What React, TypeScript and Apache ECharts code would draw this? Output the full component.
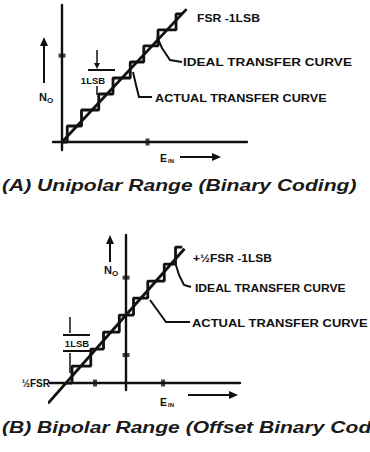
import React, { useEffect, useRef } from "react";
import * as echarts from "echarts";

// ---------- Panel A: unipolar range ----------
const idealA: number[][] = [[0, 0], [8.3, 8.3]];
const edgesA: number[] = [0.35, 1.3, 2.45, 3.4, 4.55, 5.45, 6.4, 7.6];
const stairStartA = 0;
const stairEndA = 8.0;
const tickMarksA = { y: [5.4], x: [5.7] };

// ---------- Panel B: bipolar range ----------
const idealB: number[][] = [[-5.2, -1.2], [3.9, 7.9]];
const edgesB: number[] = [-3.6, -2.35, -1.5, -0.45, 0.5, 1.45, 2.55, 3.3];
const stairStartB = -4.0;
const stairEndB = 3.75;
const tickMarksB = { y: [6.2, 1.65], x: [-2.07, 2.47] };

const INK = "#111";
const FONT = "'Liberation Sans', Arial, sans-serif";

function stairs(start: number, edges: number[], end: number): number[][] {
  const pts: number[][] = [[start, 0]];
  edges.forEach((e, k) => {
    pts.push([e, k]);
    pts.push([e, k + 1]);
  });
  pts.push([end, edges.length]);
  return pts;
}

function label(x: number, y: number, text: string, size = 11.5, align = "left", sx = 1) {
  return {
    type: "text",
    x,
    y,
    scaleX: sx,
    z: 10,
    style: {
      text,
      fontSize: size,
      fontWeight: "bold",
      fontFamily: FONT,
      fill: INK,
      textAlign: align,
      align,
      textVerticalAlign: "middle",
      verticalAlign: "middle",
    },
  };
}

function caption(y: number, text: string) {
  return {
    type: "text",
    x: 2,
    y,
    scaleX: 1.24,
    style: {
      text,
      fontSize: 17,
      fontStyle: "italic",
      fontWeight: "bold",
      fontFamily: FONT,
      fill: "#1a1a1a",
      textVerticalAlign: "middle",
      verticalAlign: "middle",
    },
  };
}

function pline(points: number[][], w = 2) {
  return { type: "polyline", z: 10, shape: { points }, style: { stroke: INK, lineWidth: w, fill: "none" } };
}

function head(points: number[][]) {
  return { type: "polygon", z: 10, shape: { points }, style: { fill: INK } };
}

const axisCommon = {
  type: "value",
  axisLine: { show: true, onZero: true, lineStyle: { color: INK, width: 2.4 } },
  axisTick: { show: false },
  axisLabel: { show: false },
  splitLine: { show: false },
};

export default function App() {
  const ref = useRef<HTMLDivElement>(null);
  useEffect(() => {
    if (!ref.current) return;
    const chart = echarts.init(ref.current, null, { renderer: "svg" });
    const lineSeries = (data: number[][], gi: number) => ({
      type: "line",
      xAxisIndex: gi,
      yAxisIndex: gi,
      data,
      symbol: "none",
      clip: false,
      lineStyle: { color: INK, width: 2.8 },
      z: 5,
    });
    const tickSeries = (ys: number[], xs: number[], gi: number) => ({
      type: "scatter",
      xAxisIndex: gi,
      yAxisIndex: gi,
      symbol: "rect",
      clip: false,
      itemStyle: { color: INK },
      data: [
        ...ys.map((v) => ({ value: [0, v], symbolSize: [7, 4] })),
        ...xs.map((v) => ({ value: [v, 0], symbolSize: [4, 7] })),
      ],
      z: 6,
    });
    chart.setOption({
      animation: false,
      backgroundColor: "#fff",
      grid: [
        { left: 53, top: 5, width: 194, height: 145 },
        { left: 50, top: 235, width: 190, height: 155 },
      ],
      xAxis: [
        { ...axisCommon, gridIndex: 0, min: -0.6, max: 12.33 },
        { ...axisCommon, gridIndex: 1, min: -5.07, max: 7.6 },
      ],
      yAxis: [
        { ...axisCommon, gridIndex: 0, min: -0.5, max: 8.56 },
        { ...axisCommon, gridIndex: 1, min: -0.41, max: 8.71 },
      ],
      series: [
        lineSeries(idealA, 0),
        lineSeries(stairs(stairStartA, edgesA, stairEndA), 0),
        tickSeries(tickMarksA.y, tickMarksA.x, 0),
        lineSeries(idealB, 1),
        lineSeries(stairs(stairStartB, edgesB, stairEndB), 1),
        tickSeries(tickMarksB.y, tickMarksB.x, 1),
      ],
      graphic: [
        // ----- Panel A annotations -----
        label(197, 18, "FSR -1LSB", 10, "left", 1.22),
        pline([[157, 37], [162, 48], [170, 60], [182, 62]]),
        label(183, 62, "IDEAL TRANSFER CURVE", 11.5, "left", 1.18),
        pline([[133, 72], [136, 85], [139, 97], [152, 97]]),
        label(155, 98, "ACTUAL TRANSFER CURVE", 11.5, "left", 1.1),
        // N_O arrow
        pline([[44, 44], [44, 83]], 2),
        head([[40, 46], [48, 46], [44, 37]]),
        label(39, 97, "N", 11),
        label(47, 100, "O", 8),
        // E_IN
        label(160, 158, "E", 10.5),
        label(168, 161, "IN", 6),
        pline([[180, 157], [214, 157]], 2.2),
        head([[212, 153], [212, 161], [221, 157]]),
        // 1LSB
        pline([[97, 50], [97, 64]], 1.5),
        head([[94, 63], [100, 63], [97, 69]]),
        pline([[88, 70], [115, 70]], 2),
        label(93, 80, "1LSB", 9.5, "center"),
        pline([[97, 86], [97, 95]], 1.5),
        caption(185, "(A) Unipolar Range (Binary Coding)"),
        // ----- Panel B annotations -----
        label(193, 258, "+½FSR -1LSB", 10, "left", 1.2),
        pline([[175, 262], [179, 275], [184, 285], [191, 287]]),
        label(195, 288, "IDEAL TRANSFER CURVE", 10.8, "left", 1.12),
        pline([[150, 300], [158, 311], [166, 322], [190, 322]]),
        label(192, 323, "ACTUAL TRANSFER CURVE", 10.8, "left", 1.2),
        // N_O arrow
        pline([[110, 242], [110, 262]], 2),
        head([[106, 244], [114, 244], [110, 235]]),
        label(104, 270, "N", 11),
        label(112, 273, "O", 8),
        // E_IN
        label(160, 402, "E", 10.5),
        label(168, 405, "IN", 6),
        pline([[188, 395], [231, 395]], 2.2),
        head([[229, 391], [229, 399], [238, 395]]),
        // 1LSB
        pline([[70, 317], [70, 333]], 1.5),
        pline([[70, 353], [70, 373]], 1.5),
        pline([[63, 335], [90, 335]], 2),
        pline([[63, 351], [90, 351]], 2),
        label(77, 343, "1LSB", 9.5, "center"),
        label(50, 383, "½FSR", 10, "right"),
        caption(427, "(B) Bipolar Range (Offset Binary Coding)"),
      ],
    });
    return () => chart.dispose();
  }, []);
  return (
    <div
      ref={ref}
      style={{ position: "fixed", left: 0, top: 0, width: 370, height: 452, background: "#fff" }}
    />
  );
}
